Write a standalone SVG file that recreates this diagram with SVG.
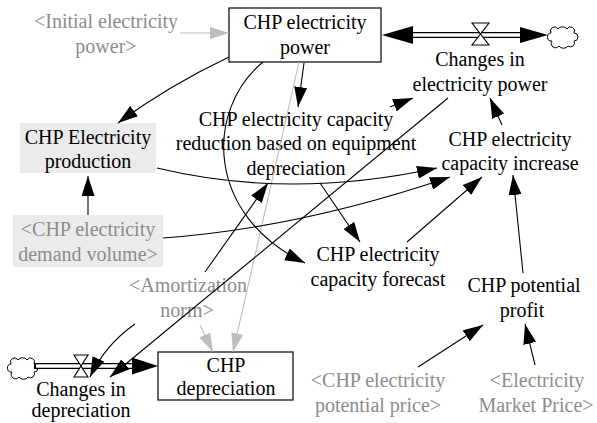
<svg xmlns="http://www.w3.org/2000/svg" width="597" height="423" viewBox="0 0 597 423">
<style>
text{font-family:"Liberation Serif","Times New Roman",serif;font-size:20px;text-anchor:middle;fill:#000}
text.sh{fill:#8c8c8c}
.c{fill:none;stroke:#000;stroke-width:1.1;marker-end:url(#ah)}
.g{fill:none;stroke:#bdbdbd;stroke-width:1.1;marker-end:url(#gh)}
.box{fill:#fff;stroke:#000;stroke-width:1.2}
.shade{fill:#ebebeb}
.pipeo{stroke:#000;stroke-width:6;fill:none}
.pipei{stroke:#fff;stroke-width:3.3;fill:none}
.valve{fill:#fff;stroke:#000;stroke-width:1.1}
.cloud{fill:#fff;stroke:#000;stroke-width:1}
.fh{fill:#000}
</style>
<defs>
<marker id="ah" markerWidth="20" markerHeight="13" refX="20" refY="6.5" orient="auto" markerUnits="userSpaceOnUse"><path d="M0,0 L20,6.5 L0,13 z" fill="#000"/></marker>
<marker id="gh" markerWidth="19" markerHeight="12" refX="19" refY="6" orient="auto" markerUnits="userSpaceOnUse"><path d="M0,0 L19,6 L0,12 z" fill="#bdbdbd"/></marker>
<path id="cloud" class="cloud" d="M3,6 a4,4 0 0 1 7,-4 a5,4 0 0 1 9,0 a4,4 0 0 1 7,4 a4,4 0 0 1 0,8 a4,4 0 0 1 -6,5 a5,4 0 0 1 -9,0 a4,4 0 0 1 -7,-5 a4,4 0 0 1 -1,-8 z"/>
</defs>

<g id="initial-electricity-power">
<text class="sh"><tspan x="106" y="28">&lt;Initial electricity</tspan><tspan x="106" y="53">power&gt;</tspan></text>
</g>

<g id="chp-electricity-power">
<rect class="box" x="229" y="8" width="152" height="54"/>
<text><tspan x="305" y="29">CHP electricity</tspan><tspan x="305" y="54">power</tspan></text>
</g>

<g id="electricity-power-flow">
<path class="pipeo" d="M400,35 H530"/>
<path class="pipei" d="M398,35 H532"/>
<polygon class="fh" points="382,35 413,26 413,44"/>
<polygon class="fh" points="548,35 520,27 520,43"/>
<use href="#cloud" x="548" y="27"/>
</g>

<g id="changes-in-electricity-power">
<path class="valve" d="M472,23 H489 L472,45 H489 Z"/>
<text><tspan x="480" y="66">Changes in</tspan><tspan x="480" y="91">electricity power</tspan></text>
</g>

<g id="chp-electricity-capacity-reduction">
<text><tspan x="296" y="126">CHP electricity capacity</tspan><tspan x="296" y="150">reduction based on equipment</tspan><tspan x="296" y="175">depreciation</tspan></text>
</g>

<g id="chp-electricity-production">
<rect class="shade" x="20" y="123" width="136" height="50"/>
<text><tspan x="88" y="144">CHP Electricity</tspan><tspan x="88" y="168">production</tspan></text>
</g>

<g id="chp-electricity-demand-volume">
<rect class="shade" x="13" y="215" width="150" height="52"/>
<text class="sh"><tspan x="88" y="236">&lt;CHP electricity</tspan><tspan x="88" y="261">demand volume&gt;</tspan></text>
</g>

<g id="chp-electricity-capacity-increase">
<text><tspan x="510" y="146">CHP electricity</tspan><tspan x="510" y="170">capacity increase</tspan></text>
</g>

<g id="chp-electricity-capacity-forecast">
<text><tspan x="378" y="261">CHP electricity</tspan><tspan x="378" y="286">capacity forecast</tspan></text>
</g>

<g id="chp-potential-profit">
<text><tspan x="524" y="292">CHP potential</tspan><tspan x="522" y="317">profit</tspan></text>
</g>

<g id="chp-electricity-potential-price">
<text class="sh"><tspan x="378" y="387">&lt;CHP electricity</tspan><tspan x="378" y="412">potential price&gt;</tspan></text>
</g>

<g id="electricity-market-price">
<text class="sh"><tspan x="537" y="387">&lt;Electricity</tspan><tspan x="536" y="412">Market Price&gt;</tspan></text>
</g>

<g id="amortization-norm">
<text class="sh"><tspan x="188" y="292">&lt;Amortization</tspan><tspan x="187" y="317">norm&gt;</tspan></text>
</g>

<g id="chp-depreciation">
<rect class="box" x="158" y="352" width="135" height="48"/>
<text><tspan x="226" y="372">CHP</tspan><tspan x="226" y="395">depreciation</tspan></text>
</g>

<g id="depreciation-flow">
<use href="#cloud" x="8" y="358"/>
<path class="pipeo" d="M34,366 H140"/>
<path class="pipei" d="M36,366 H142"/>
<polygon class="fh" points="158,366 132,357.5 132,374.5"/>
</g>

<g id="changes-in-depreciation">
<path class="valve" d="M74,355 H88 L74,377 H88 Z"/>
<text><tspan x="81" y="396">Changes in</tspan><tspan x="81" y="417">depreciation</tspan></text>
</g>

<g id="connectors">
<path class="g" d="M180,33 L229,33"/>
<path class="c" d="M229,57 Q168,86 118,123"/>
<path class="c" d="M304,63 L298,107"/>
<path class="g" d="M299,62 L233,352"/>
<path class="c" d="M263,62 C205,110 205,215 305,263"/>
<path class="c" d="M157,168 Q290,200 437,168"/>
<path class="c" d="M163,238 Q300,228 450,177"/>
<path class="c" d="M88,215 L88,176"/>
<path class="c" d="M205,272 L268,183"/>
<path class="c" d="M320,183 L360,242"/>
<path class="c" d="M407,242 L482,177"/>
<path class="c" d="M523,273 L513,175"/>
<path class="c" d="M502,125 L490,98"/>
<path class="c" d="M390,107 L413,98"/>
<path class="c" d="M448,98 L110,377"/>
<path class="c" d="M135,324 Q105,345 90,377"/>
<path class="g" d="M200,325 L213,352"/>
<path class="c" d="M418,367 L483,325"/>
<path class="c" d="M535,365 L525,324"/>
</g>
</svg>
